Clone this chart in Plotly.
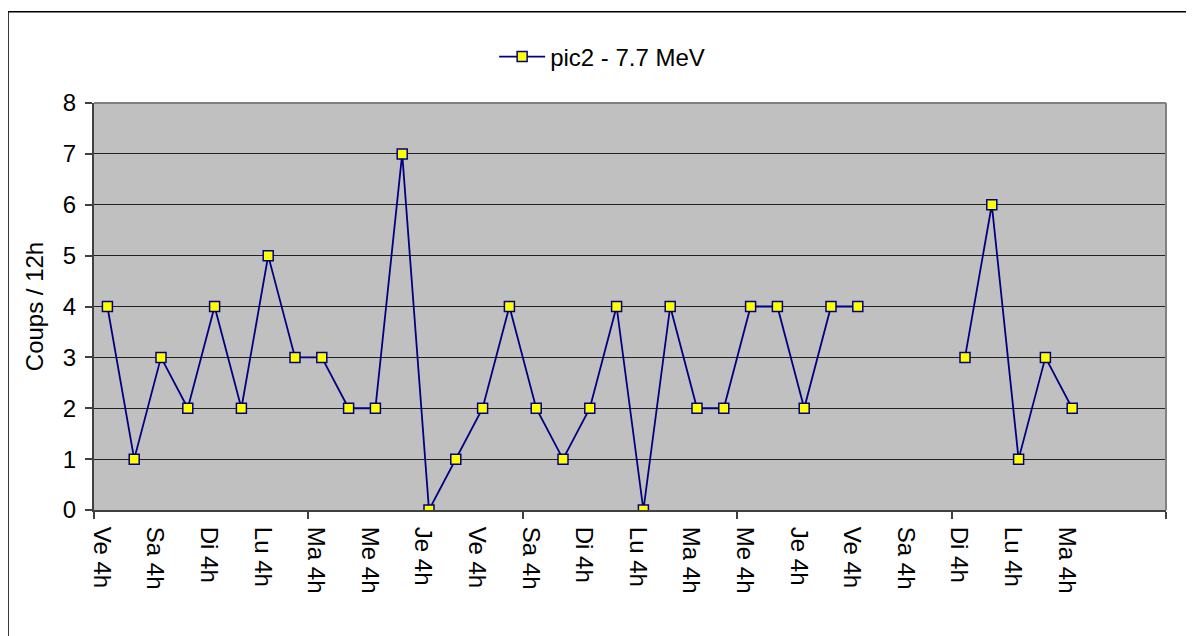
import plotly.graph_objects as go

# Data (counts per 12h slot)
counts = [4, 1, 3, 2, 4, 2, 5, 3, 3, 2, 2, 7, 0, 1, 2, 4, 2, 1, 2, 4,
          0, 4, 2, 2, 4, 4, 2, 4, 4, None, None, None, 3, 6, 1, 3, 2]
day_labels = ["Ve 4h", "Sa 4h", "Di 4h", "Lu 4h", "Ma 4h", "Me 4h", "Je 4h",
              "Ve 4h", "Sa 4h", "Di 4h", "Lu 4h", "Ma 4h", "Me 4h", "Je 4h",
              "Ve 4h", "Sa 4h", "Di 4h", "Lu 4h", "Ma 4h"]
series_name = "pic2 - 7.7 MeV"
y_title = "Coups / 12h"
n_slots = 40

slots = list(range(len(counts)))
label_pos = [2 * i - 0.22 for i in range(len(day_labels))]
boundary_ticks = [-0.5 + 8 * k for k in range(6)]

FONT = "Liberation Sans, Arial, sans-serif"

fig = go.Figure()
fig.add_trace(go.Scatter(
    x=slots, y=counts, mode="lines+markers", name=series_name,
    connectgaps=False,
    line=dict(color="#000080", width=1.8),
    marker=dict(symbol="square", size=10, color="#FFFF00",
                line=dict(color="#000080", width=1.5)),
))

fig.update_layout(
    width=1186, height=628,
    margin=dict(l=86, r=28, t=95, b=126),
    paper_bgcolor="white", plot_bgcolor="#C0C0C0",
    font=dict(family=FONT, size=24, color="black"),
    showlegend=True,
    legend=dict(orientation="h", x=0.474, xanchor="center", y=1.113,
                yanchor="middle", font=dict(size=24), bgcolor="rgba(0,0,0,0)",
                itemwidth=46),
    xaxis=dict(
        range=[-0.5, n_slots - 0.5], tickmode="array", tickvals=label_pos,
        ticktext=day_labels, tickangle=90, ticks="", showgrid=False,
        zeroline=False, showline=True, linecolor="#404040", linewidth=2,
        tickfont=dict(size=24, family=FONT), ticklabelstandoff=10,
        minor=dict(tickmode="array", tickvals=boundary_ticks, ticks="outside",
                   ticklen=7, tickcolor="#404040", tickwidth=1.5, showgrid=False),
    ),
    yaxis=dict(
        range=[0, 8], dtick=1, ticks="outside", ticklen=7, tickcolor="#404040",
        tickwidth=1.5, showline=True, linecolor="#404040", linewidth=2,
        gridcolor="#222222", gridwidth=1, zeroline=False,
        tickfont=dict(size=24, family=FONT), ticklabelstandoff=4,
        title=dict(text=y_title, font=dict(size=24, family=FONT), standoff=12),
    ),
    shapes=[
        dict(type="line", xref="paper", yref="paper", x0=0, x1=1, y0=1, y1=1,
             line=dict(color="#808080", width=2)),
        dict(type="line", xref="paper", yref="paper", x0=1, x1=1, y0=0, y1=1,
             line=dict(color="#808080", width=2)),
        dict(type="rect", xref="paper", yref="paper", x0=-0.0802, x1=1.2,
             y0=-0.6, y1=1.2239, line=dict(color="black", width=1.5),
             layer="below"),
    ],
)

fig.write_html("out.html")
